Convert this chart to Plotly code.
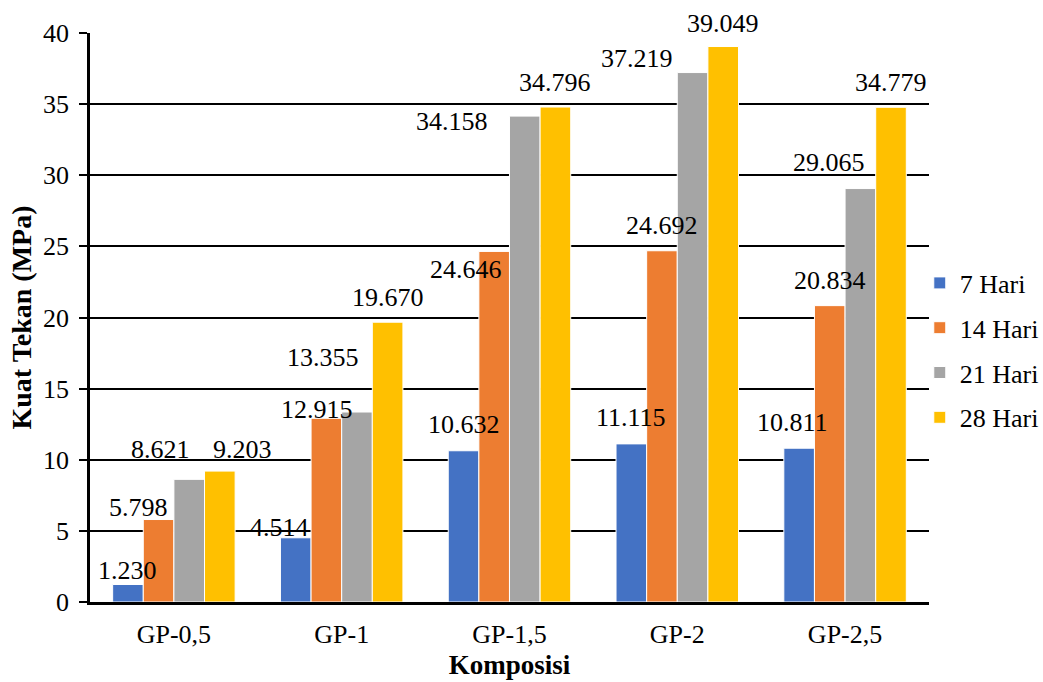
import plotly.graph_objects as go

# Compressive strength (MPa) per composition and curing age
categories = ["GP-0,5", "GP-1", "GP-1,5", "GP-2", "GP-2,5"]
series_names = ["7 Hari", "14 Hari", "21 Hari", "28 Hari"]
hari_7 = [1.230, 4.514, 10.632, 11.115, 10.811]
hari_14 = [5.798, 12.915, 24.646, 24.692, 20.834]
hari_21 = [8.621, 13.355, 34.158, 37.219, 29.065]
hari_28 = [9.203, 19.670, 34.796, 39.049, 34.779]
y_ticks = [0, 5, 10, 15, 20, 25, 30, 35, 40]

series_values = [hari_7, hari_14, hari_21, hari_28]
colors = ["#4472C4", "#ED7D31", "#A5A5A5", "#FFC000"]

# Pixel nudges (dx, dy) for each value label, relative to the top centre of its bar
label_offsets = [
    [(0, 14), (-16, 10), (0, 26), (0, 26), (-7, 26)],
    [(-20, 12), (-9, 9), (-28, -18), (0, 25), (0, 25)],
    [(-29, 30), (-34, 55), (-73, -5), (-56, 14), (-31, 26)],
    [(23, 22), (0, 25), (0, 25), (0, 23), (0, 25)],
]

FONT = "Liberation Serif"
BARGAP = 0.27

fig = go.Figure()
for name, vals, col in zip(series_names, series_values, colors):
    fig.add_trace(go.Bar(
        x=categories, y=vals, name=name, legendgroup=name,
        marker=dict(color=col, line=dict(color="white", width=1)),
    ))

n_series = len(series_values)
bar_w = (1 - BARGAP) / n_series
annotations = []
for i, vals in enumerate(series_values):
    for j, v in enumerate(vals):
        dx, dy = label_offsets[i][j]
        annotations.append(dict(
            x=j + (i - (n_series - 1) / 2) * bar_w, y=v,
            xref="x", yref="y", text=f"{v:.3f}", showarrow=False,
            xanchor="center", yanchor="middle", xshift=dx, yshift=dy,
            font=dict(family=FONT, size=26, color="black"),
        ))

fig.update_layout(
    width=1043, height=682,
    margin=dict(l=90, r=114, t=33, b=80, autoexpand=False),
    paper_bgcolor="white", plot_bgcolor="white",
    barmode="group", bargap=BARGAP, bargroupgap=0,
    font=dict(family=FONT, size=26, color="black"),
    annotations=annotations,
    legend=dict(
        x=0.989, xanchor="left", y=0.442, yanchor="middle",
        font=dict(family=FONT, size=26, color="black"),
        tracegroupgap=8, bgcolor="rgba(0,0,0,0)",
    ),
    xaxis=dict(
        type="category", showline=True, linecolor="black", linewidth=2.5,
        ticks="", showgrid=False, ticklabelstandoff=7,
        tickfont=dict(family=FONT, size=26, color="black"),
        title=dict(text="Komposisi", standoff=8,
                   font=dict(family=FONT, size=27, color="black", weight="bold")),
    ),
    yaxis=dict(
        range=[0, 40], tickvals=y_ticks, ticktext=[str(t) for t in y_ticks],
        showgrid=True, gridcolor="black", gridwidth=1.5,
        showline=True, linecolor="black", linewidth=2.5,
        ticks="outside", ticklen=8, tickwidth=2, tickcolor="black",
        zeroline=False, ticklabelstandoff=5,
        tickfont=dict(family=FONT, size=26, color="black"),
        title=dict(text="Kuat Tekan (MPa)", standoff=4,
                   font=dict(family=FONT, size=28, color="black", weight="bold")),
    ),
)

fig.write_html("out.html")
